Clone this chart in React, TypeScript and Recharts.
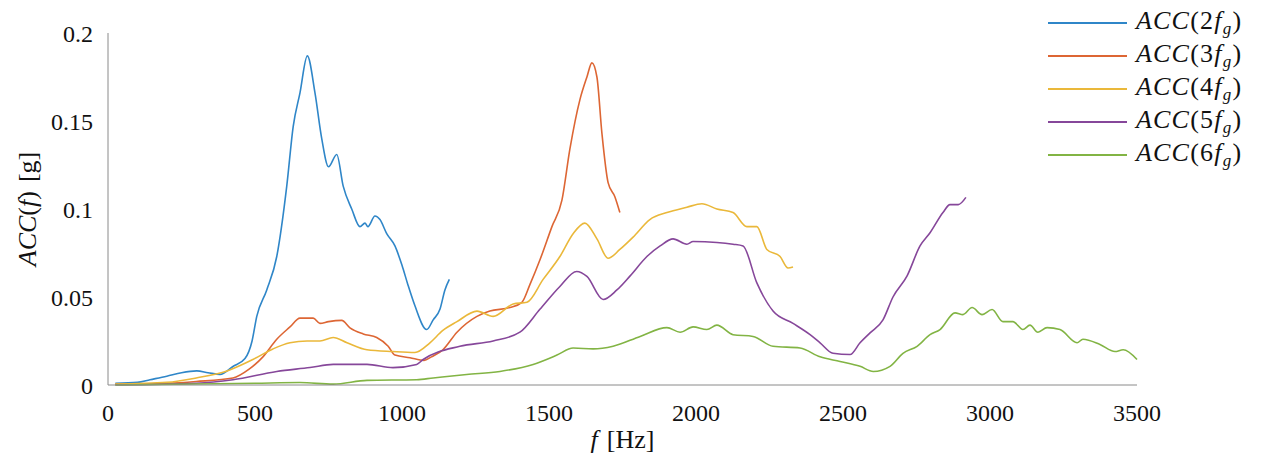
import React from "react";
import { LineChart, Line, XAxis, YAxis, Legend } from "recharts";

// Acceleration spectra at the gear-mesh harmonics, [frequency Hz, amplitude g]
const ACC_2FG: [number, number][] = [
  [25, 0.001], [100, 0.0015], [143, 0.003], [200, 0.005], [250, 0.007], [302, 0.008],
  [340, 0.007], [381, 0.006], [425, 0.0105], [466, 0.015], [490, 0.025], [506, 0.039],
  [540, 0.054], [574, 0.073], [608, 0.113], [630, 0.147], [653, 0.166], [678, 0.187],
  [704, 0.166], [727, 0.14], [750, 0.124], [778, 0.131], [800, 0.113], [829, 0.1],
  [857, 0.09], [874, 0.092], [884, 0.09], [908, 0.096], [925, 0.094], [948, 0.086],
  [976, 0.079], [1000, 0.068], [1020, 0.057], [1044, 0.045], [1084, 0.0315], [1106, 0.037],
  [1129, 0.043], [1146, 0.054], [1161, 0.06],
];

const ACC_3FG: [number, number][] = [
  [25, 0.0005], [200, 0.001], [300, 0.002], [425, 0.004], [480, 0.009], [527, 0.016],
  [574, 0.026], [619, 0.033], [653, 0.038], [698, 0.038], [721, 0.035], [750, 0.036],
  [795, 0.0367], [823, 0.0325], [868, 0.029], [914, 0.027], [953, 0.022], [976, 0.017],
  [1027, 0.0155], [1075, 0.014], [1100, 0.016], [1139, 0.02], [1187, 0.03], [1255, 0.039],
  [1299, 0.042], [1367, 0.044], [1408, 0.047], [1435, 0.057], [1469, 0.071], [1510, 0.09],
  [1544, 0.105], [1571, 0.134], [1605, 0.162], [1629, 0.175], [1646, 0.183], [1663, 0.175],
  [1680, 0.143], [1701, 0.115], [1724, 0.107], [1741, 0.098],
];

const ACC_4FG: [number, number][] = [
  [25, 0.0005], [200, 0.0015], [300, 0.004], [405, 0.008], [493, 0.0145], [561, 0.0205],
  [619, 0.024], [677, 0.025], [721, 0.025], [766, 0.027], [813, 0.024], [881, 0.02],
  [969, 0.019], [1044, 0.0185], [1095, 0.024], [1139, 0.031], [1187, 0.036], [1255, 0.042],
  [1310, 0.039], [1378, 0.046], [1425, 0.047], [1480, 0.06], [1537, 0.073], [1582, 0.086],
  [1622, 0.092], [1663, 0.083], [1701, 0.072], [1741, 0.077], [1786, 0.084], [1843, 0.094],
  [1901, 0.098], [1969, 0.101], [2020, 0.103], [2071, 0.1], [2126, 0.098], [2173, 0.09],
  [2207, 0.09], [2241, 0.077], [2286, 0.073], [2313, 0.0665], [2330, 0.067],
];

const ACC_5FG: [number, number][] = [
  [25, 0], [300, 0.001], [425, 0.003], [574, 0.0077], [687, 0.0099], [766, 0.0117],
  [881, 0.0117], [969, 0.0099], [1050, 0.0117], [1072, 0.0145], [1197, 0.022], [1310, 0.025],
  [1401, 0.03], [1469, 0.043], [1537, 0.056], [1594, 0.0645], [1629, 0.0617], [1684, 0.0486],
  [1731, 0.054], [1776, 0.062], [1833, 0.073], [1878, 0.079], [1922, 0.083], [1969, 0.08],
  [1990, 0.0815], [2071, 0.081], [2126, 0.08], [2160, 0.079], [2207, 0.058], [2262, 0.042],
  [2330, 0.035], [2388, 0.0286], [2422, 0.024], [2466, 0.018], [2524, 0.0173], [2558, 0.024],
  [2592, 0.0296], [2636, 0.037], [2670, 0.05], [2718, 0.062], [2762, 0.079], [2796, 0.0865],
  [2840, 0.098], [2864, 0.1025], [2892, 0.1025], [2918, 0.1066],
];

const ACC_6FG: [number, number][] = [
  [25, 0], [500, 0.001], [653, 0.0014], [766, 0.0005], [881, 0.0026], [1050, 0.003],
  [1106, 0.004], [1220, 0.006], [1333, 0.0077], [1446, 0.0117], [1527, 0.017], [1582, 0.021],
  [1650, 0.0205], [1718, 0.022], [1810, 0.0276], [1901, 0.0326], [1946, 0.03], [1990, 0.033],
  [2037, 0.0315], [2071, 0.034], [2126, 0.0286], [2194, 0.0276], [2262, 0.022], [2354, 0.021],
  [2422, 0.016], [2490, 0.0134], [2558, 0.0106], [2603, 0.0077], [2660, 0.0106], [2704, 0.018],
  [2752, 0.022], [2796, 0.0286], [2830, 0.0315], [2881, 0.041], [2908, 0.04], [2939, 0.044],
  [2973, 0.04], [3007, 0.0429], [3044, 0.036], [3078, 0.036], [3112, 0.0315], [3136, 0.034],
  [3163, 0.03], [3194, 0.0326], [3238, 0.0315], [3296, 0.024], [3316, 0.026], [3374, 0.023],
  [3425, 0.019], [3453, 0.02], [3500, 0.0145],
];

const HARMONICS = [2, 3, 4, 5, 6];
const SPECTRA = [ACC_2FG, ACC_3FG, ACC_4FG, ACC_5FG, ACC_6FG];
const COLORS = ["#2f86c8", "#dd6634", "#eab83a", "#86479a", "#82b444"];

const X_TICKS = [0, 500, 1000, 1500, 2000, 2500, 3000, 3500];
const Y_TICKS = [0, 0.05, 0.1, 0.15, 0.2];

const FONT = "Liberation Serif, DejaVu Serif, serif";
const AXIS_GREY = "#8a8a8a";

const toRows = (pts: [number, number][]) => pts.map(([f, v]) => ({ f, v }));

function YTitle({ viewBox }: any) {
  const vb = viewBox || { x: 0, y: 33, width: 108, height: 352 };
  const cx = vb.x + 27;
  const cy = vb.y + vb.height / 2;
  return (
    <text
      x={cx}
      y={cy}
      transform={`rotate(-90 ${cx} ${cy})`}
      textAnchor="middle"
      dominantBaseline="central"
      style={{ fontFamily: FONT }}
      fontSize={26}
      fill="#111"
    >
      <tspan fontStyle="italic">ACC</tspan>
      <tspan>(</tspan>
      <tspan fontStyle="italic">f</tspan>
      <tspan>)</tspan>
      <tspan dx={9}>[g]</tspan>
    </text>
  );
}

function XTitle({ viewBox }: any) {
  const vb = viewBox || { x: 108, y: 385, width: 1029, height: 74 };
  const cx = vb.x + vb.width / 2;
  return (
    <text x={cx} y={vb.y + 63} textAnchor="middle" style={{ fontFamily: FONT }} fontSize={26} fill="#111">
      <tspan fontStyle="italic">f</tspan>
      <tspan dx={9}>[Hz]</tspan>
    </text>
  );
}

function HarmonicLegend({ payload }: any) {
  const items = payload || [];
  return (
    <div style={{ fontFamily: FONT, fontSize: 26, color: "#111" }}>
      {items.map((entry: any) => (
        <div key={entry.value} style={{ display: "flex", alignItems: "center", height: 33 }}>
          <span style={{ width: 79, height: 2, background: entry.color, marginRight: 9 }} />
          <span style={{ whiteSpace: "nowrap", letterSpacing: 1.2 }}>
            <i>ACC</i>({entry.value}
            <i>f</i>
            <sub style={{ fontSize: 17, fontStyle: "italic", verticalAlign: "-5px" }}>g</sub>)
          </span>
        </div>
      ))}
    </div>
  );
}

export default function App() {
  const tickStyle = { fill: "#111", fontSize: 24, style: { fontFamily: FONT } };
  return (
    <div style={{ position: "absolute", left: 0, top: 0, width: 1269, height: 459, background: "#fff", fontFamily: FONT }}>
      <LineChart width={1269} height={459} margin={{ top: 33, right: 132, bottom: 0, left: 0 }} style={{ fontFamily: FONT }}>
        <XAxis
          type="number"
          dataKey="f"
          domain={[0, 3500]}
          ticks={X_TICKS}
          height={74}
          stroke={AXIS_GREY}
          tickLine={false}
          tickSize={6}
          tickMargin={13}
          tick={tickStyle}
          label={<XTitle />}
        />
        <YAxis
          type="number"
          domain={[0, 0.2]}
          ticks={Y_TICKS}
          width={108}
          stroke={AXIS_GREY}
          tickLine={false}
          tickSize={6}
          tickMargin={9}
          tick={tickStyle}
          tickFormatter={(v: number) => (v === 0 ? "0" : String(v))}
          label={<YTitle />}
        />
        <Legend
          layout="vertical"
          align="center"
          verticalAlign="middle"
          content={<HarmonicLegend />}
          wrapperStyle={{ left: 1048, top: 6, width: 221 }}
        />
        {SPECTRA.map((pts, i) => (
          <Line
            key={HARMONICS[i]}
            data={toRows(pts)}
            dataKey="v"
            name={String(HARMONICS[i])}
            type="monotone"
            stroke={COLORS[i]}
            strokeWidth={1.6}
            dot={false}
            activeDot={false}
            isAnimationActive={false}
          />
        ))}
      </LineChart>
    </div>
  );
}
